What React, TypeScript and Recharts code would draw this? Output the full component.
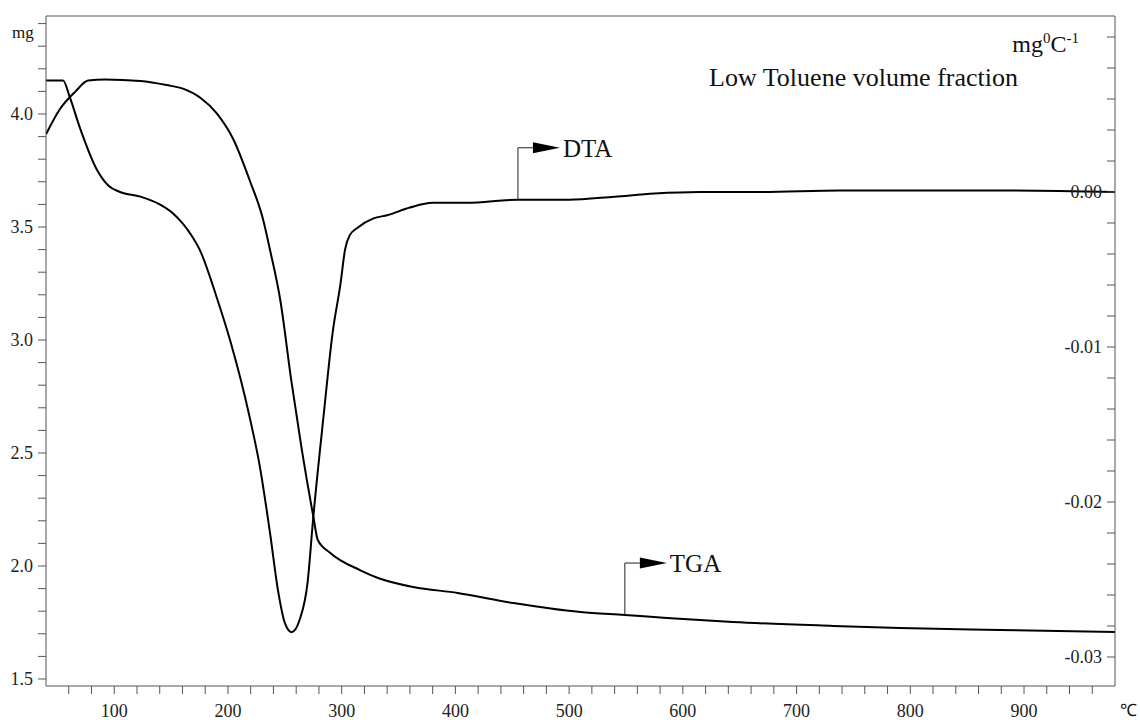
import { Line, LineChart, ReferenceDot, ReferenceLine, XAxis, YAxis } from "recharts";

const serif = "'Liberation Serif', 'Times New Roman', Times, serif";
const axisGrey = "#555";

// TGA: sample mass (mg) vs temperature (°C)
const tgaTemp = [40, 52, 66, 77, 92, 123, 146, 161, 176, 190, 205, 219, 231, 237, 246, 256, 265, 275, 279, 290, 316, 332, 363, 402, 451, 510, 549, 586, 644, 732, 791, 879, 980];
const tgaMass = [3.91, 4.02, 4.1, 4.148, 4.153, 4.146, 4.128, 4.111, 4.071, 4.004, 3.885, 3.708, 3.531, 3.398, 3.177, 2.81, 2.513, 2.221, 2.115, 2.058, 1.982, 1.947, 1.907, 1.881, 1.836, 1.796, 1.783, 1.77, 1.752, 1.735, 1.726, 1.717, 1.708];

// DTA signal (mg °C^-1) vs temperature (°C)
const dtaTemp = [40, 55, 61, 70, 85, 95, 105, 123, 140, 152, 167, 175, 191, 202, 219, 228, 237, 244, 250, 256, 263, 270, 275, 284, 292, 299, 303, 307, 314, 328, 340, 360, 380, 410, 455, 500, 540, 575, 615, 668, 738, 879, 980];
const dtaSignal = [0.0072, 0.0072, 0.0061, 0.0041, 0.0014, 0.0004, 0, -0.0003, -0.0008, -0.0014, -0.0027, -0.0037, -0.007, -0.0096, -0.0145, -0.0177, -0.022, -0.0257, -0.0278, -0.0284, -0.0276, -0.0252, -0.021, -0.0145, -0.0091, -0.0059, -0.0037, -0.0028, -0.0023, -0.0017, -0.0015, -0.001, -0.0007, -0.0007, -0.0005, -0.0005, -0.0003, -0.0001, 0, 0, 0.0001, 0.0001, 0];

// which sample each flag label hangs from
const tgaFlagIndex = 26;
const dtaFlagIndex = 34;

const tempDomain = [40, 980];
const massDomain = [1.469, 4.4336];
const dtaDomain = [-0.031871, 0.011355];

const tempTicks = Array.from({ length: 46 }, (_, i) => 60 + i * 20);
const massTicks = Array.from({ length: 30 }, (_, i) => (15 + i) / 10);
const dtaTicks = Array.from({ length: 21 }, (_, i) => (-30 + 2 * i) / 1000);

const tgaData = tgaTemp.map((t, i) => ({ t, mg: tgaMass[i] }));
const dtaData = dtaTemp.map((t, i) => ({ t, dta: dtaSignal[i] }));

const tickStyle = { fill: "#222", fontSize: 18, fontFamily: serif };

// vertical stem up from the curve, short run right, filled arrowhead, then the label
const flag = (label: string) => (props: any) => {
  const { cx, cy } = props;
  const top = cy - 52;
  return (
    <g>
      <path d={`M${cx},${cy} V${top} H${cx + 15}`} stroke="#222" strokeWidth={1} fill="none" />
      <path d={`M${cx + 15},${top - 5.5} L${cx + 42},${top} L${cx + 15},${top + 5.5} Z`} fill="#000" />
      <text x={cx + 45} y={top + 9} fontFamily={serif} fontSize={25} fill="#111">
        {label}
      </text>
    </g>
  );
};

export default function App() {
  return (
    <div style={{ position: "absolute", left: 0, top: 0, width: 1140, height: 720, background: "#fff" }}>
      <LineChart width={1140} height={720} margin={{ top: 16, right: 25, left: 6, bottom: 4 }}>
        <XAxis
          dataKey="t"
          type="number"
          domain={tempDomain}
          ticks={tempTicks}
          interval={0}
          allowDataOverflow
          tickSize={8}
          tickMargin={10}
          height={30}
          stroke={axisGrey}
          tick={tickStyle}
          tickFormatter={(v: number) => (v % 100 === 0 ? `${v}` : "")}
        />
        <YAxis
          yAxisId="left"
          type="number"
          domain={massDomain}
          ticks={massTicks}
          interval={0}
          allowDataOverflow
          width={40}
          tickSize={8}
          tickMargin={5}
          stroke={axisGrey}
          tick={tickStyle}
          tickFormatter={(v: number) => (Math.round(v * 10) % 5 === 0 ? v.toFixed(1) : "")}
        />
        <YAxis
          yAxisId="right"
          orientation="right"
          mirror
          type="number"
          domain={dtaDomain}
          ticks={dtaTicks}
          interval={0}
          allowDataOverflow
          tickSize={8}
          tickMargin={5}
          stroke={axisGrey}
          tick={tickStyle}
          tickFormatter={(v: number) =>
            v <= 0 && Math.round(v * 1000) % 10 === 0 ? (v === 0 ? "0.00" : v.toFixed(2)) : ""
          }
        />
        <ReferenceLine yAxisId="left" y={massDomain[1]} stroke={axisGrey} strokeWidth={1} />
        <Line
          yAxisId="right"
          data={dtaData}
          dataKey="dta"
          type="monotone"
          stroke="#000"
          strokeWidth={2}
          dot={false}
          isAnimationActive={false}
        />
        <Line
          yAxisId="left"
          data={tgaData}
          dataKey="mg"
          type="monotone"
          stroke="#000"
          strokeWidth={2}
          dot={false}
          isAnimationActive={false}
        />
        <ReferenceDot
          yAxisId="right"
          x={dtaTemp[dtaFlagIndex]}
          y={dtaSignal[dtaFlagIndex]}
          shape={flag("DTA")}
        />
        <ReferenceDot
          yAxisId="left"
          x={tgaTemp[tgaFlagIndex]}
          y={tgaMass[tgaFlagIndex]}
          shape={flag("TGA")}
        />
      </LineChart>
      <svg
        width={1140}
        height={720}
        style={{ position: "absolute", left: 0, top: 0, pointerEvents: "none" }}
        fontFamily={serif}
        fill="#111"
      >
        <text x={12} y={38} fontSize={17}>mg</text>
        <text x={1079} y={52} fontSize={24} textAnchor="end">
          mg<tspan fontSize={15} dy={-9}>0</tspan>
          <tspan dy={9}>C</tspan>
          <tspan fontSize={15} dy={-9}>-1</tspan>
        </text>
        <text x={1018} y={86} fontSize={26} textAnchor="end">Low Toluene volume fraction</text>
        <text x={1120} y={716} fontSize={17}>℃</text>
      </svg>
    </div>
  );
}
